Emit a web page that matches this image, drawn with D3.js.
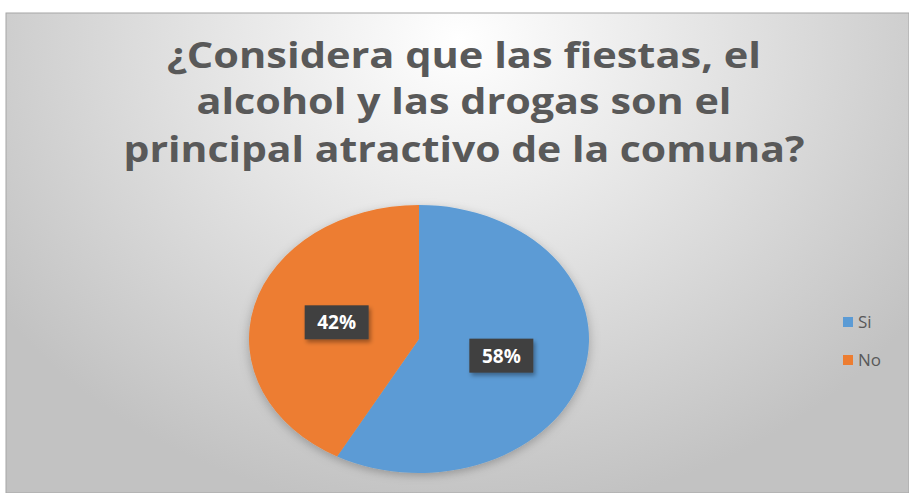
<!DOCTYPE html>
<html><head><meta charset="utf-8">
<script src="https://cdn.jsdelivr.net/npm/d3@7"></script>
<style>html,body{margin:0;padding:0;background:#fff;}svg{display:block;}</style>
</head><body>
<svg id="c" width="909" height="493"></svg>
<script>
const categories = ["Si", "No"];
const values = [58, 42];
const colors = ["#5b9bd5", "#ed7d31"];
const titleLines = ["¿Considera que las fiestas, el", "alcohol y las drogas son el", "principal atractivo de la comuna?"];

const svg = d3.select("#c");
const defs = svg.append("defs");
const rg = defs.append("radialGradient").attr("id","bg")
  .attr("gradientUnits","userSpaceOnUse").attr("cx",460).attr("cy",40).attr("r",560)
  .attr("gradientTransform","translate(460,40) scale(1,0.85) translate(-460,-40)");
rg.append("stop").attr("offset","0%").attr("stop-color","#ffffff");
rg.append("stop").attr("offset","45%").attr("stop-color","#e4e4e4");
rg.append("stop").attr("offset","100%").attr("stop-color","#c2c2c2");
const sh = defs.append("filter").attr("id","sh").attr("x","-30%").attr("y","-30%").attr("width","160%").attr("height","160%");
sh.append("feDropShadow").attr("dx",2).attr("dy",3).attr("stdDeviation",2).attr("flood-color","#000").attr("flood-opacity",0.35);
const psh = defs.append("filter").attr("id","psh").attr("x","-20%").attr("y","-20%").attr("width","140%").attr("height","140%");
psh.append("feDropShadow").attr("dx",0).attr("dy",2).attr("stdDeviation",3).attr("flood-color","#000").attr("flood-opacity",0.25);

// frame
svg.append("rect").attr("x",6).attr("y",13).attr("width",903).attr("height",480)
  .attr("fill","url(#bg)").attr("stroke","#a6a6a6").attr("stroke-width",1);

// title
const titleWidths = [594, 535, 681];
const baselines = [68, 114, 162];
const tg = svg.append("g");
titleLines.forEach((t,i)=>{
  tg.append("text").attr("x",464).attr("y",baselines[i]).attr("text-anchor","middle")
    .attr("font-family","'Open Sans', sans-serif").attr("font-weight","bold").attr("font-size",35)
    .attr("fill","#595959").attr("textLength",titleWidths[i]).attr("lengthAdjust","spacingAndGlyphs")
    .text(t);
});

// pie
const cx = 419, cy = 339, rx = 170, ry = 134;
const R = 100;
const pie = d3.pie().sort(null).value(d=>d);
const arcs = pie(values);
const arc = d3.arc().innerRadius(0).outerRadius(R);
const pg = svg.append("g").attr("transform",`translate(${cx},${cy}) scale(${rx/R},${ry/R})`).attr("filter","url(#psh)");
pg.selectAll("path").data(arcs).join("path")
  .attr("d",arc).attr("fill",(d,i)=>colors[i]);

// labels
const labelPos = d3.arc().innerRadius(R*0.5).outerRadius(R*0.5);
const lg = svg.append("g");
arcs.forEach((d,i)=>{
  const [px,py] = labelPos.centroid(d);
  const x = cx + px*rx/R, y = cy + py*ry/R;
  const g = lg.append("g").attr("transform",`translate(${x},${y})`);
  g.append("rect").attr("x",-32).attr("y",-17).attr("width",64).attr("height",34)
    .attr("fill","#404040").attr("filter","url(#sh)");
  g.append("text").attr("text-anchor","middle").attr("dy","0.36em")
    .attr("font-family","'Open Sans', sans-serif").attr("font-weight","bold").attr("font-size",19)
    .attr("fill","#ffffff").text(Math.round(d.data) + "%");
});

// legend
const leg = svg.append("g").attr("transform","translate(843,317)");
categories.forEach((c,i)=>{
  const g = leg.append("g").attr("transform",`translate(0,${i*38})`);
  g.append("rect").attr("width",10).attr("height",10).attr("fill",colors[i]);
  g.append("text").attr("x",15).attr("y",5).attr("dy","0.36em")
    .attr("font-family","'Open Sans', sans-serif").attr("font-size",17).attr("fill","#595959").text(c);
});
</script>
</body></html>
